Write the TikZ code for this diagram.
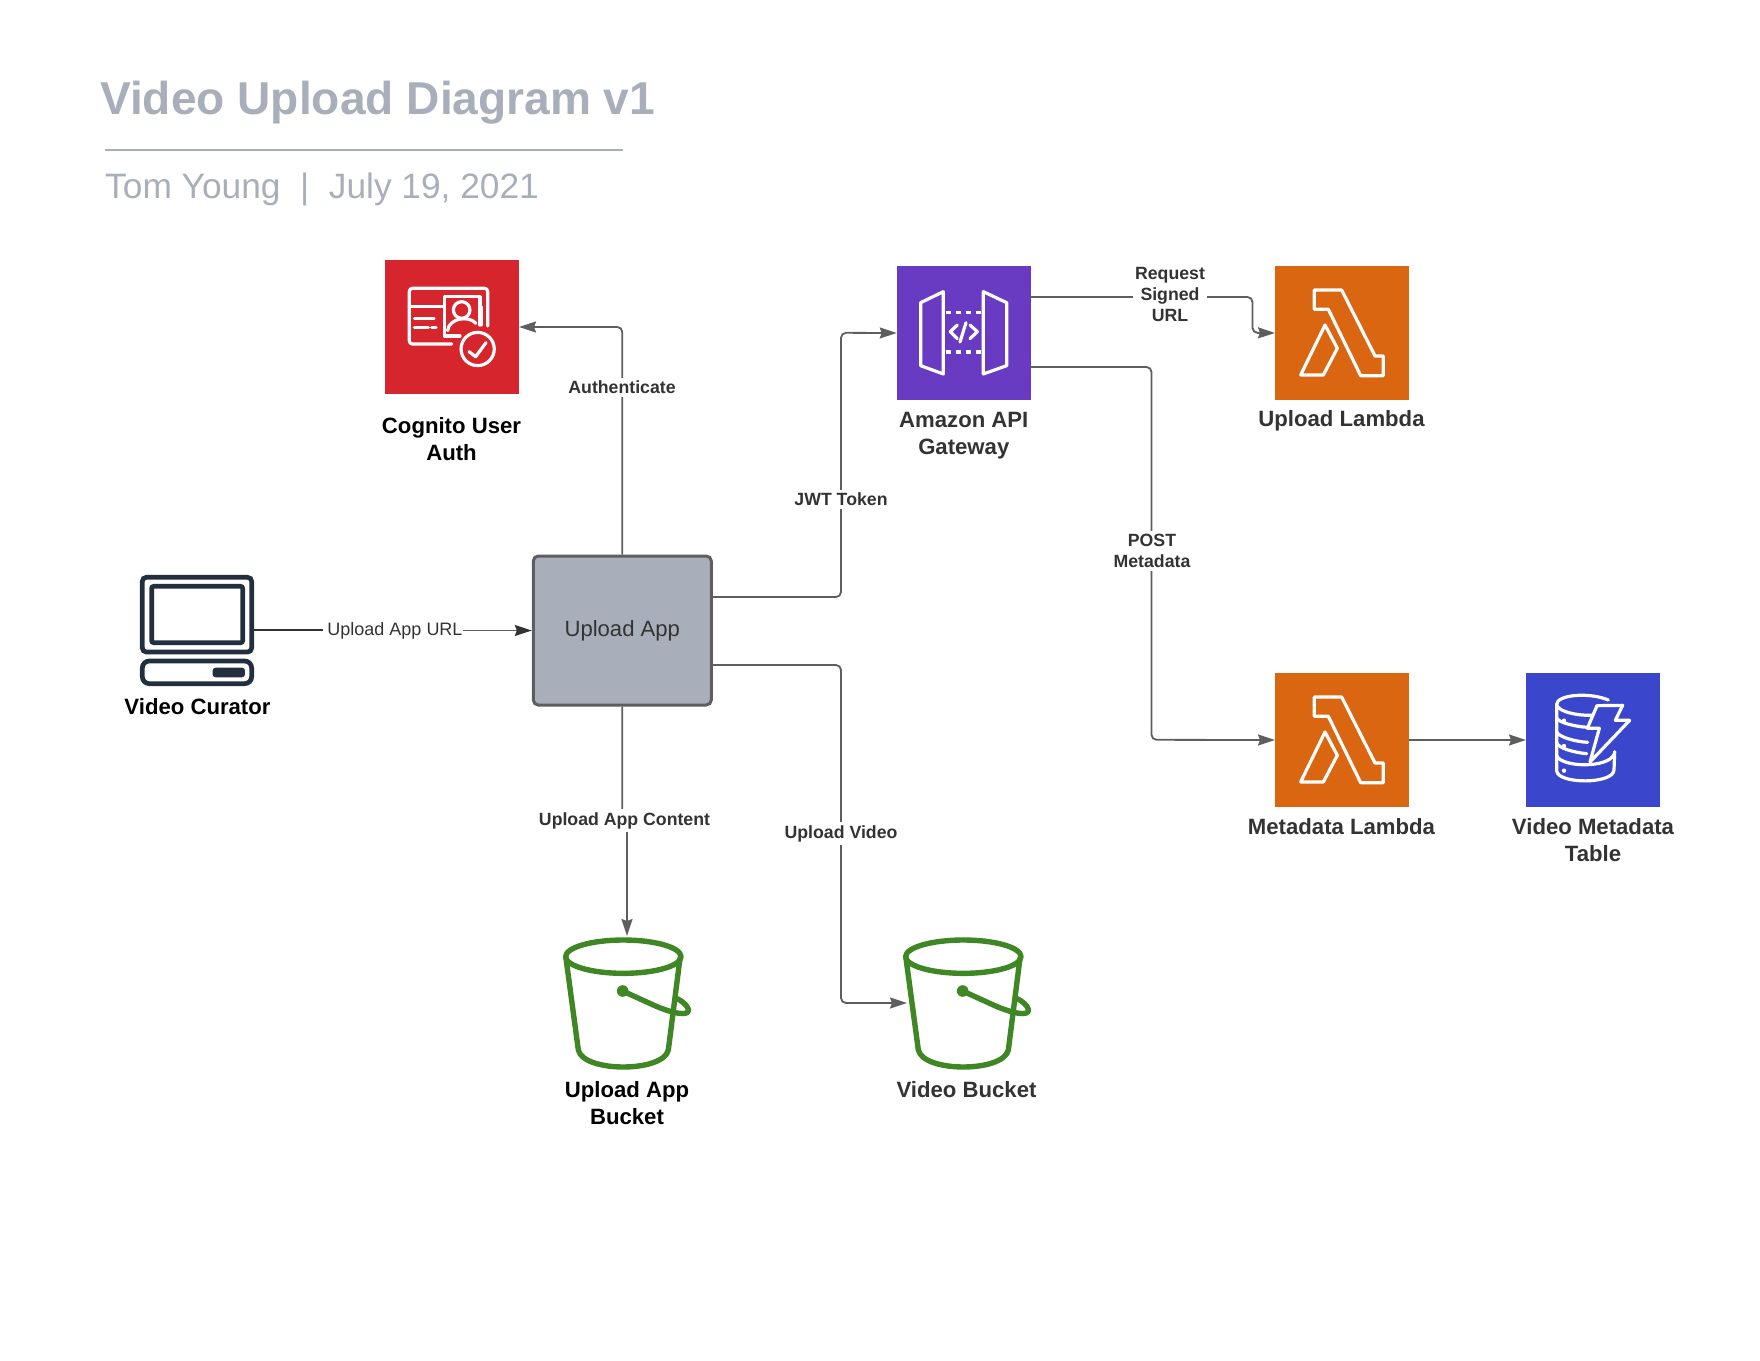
\documentclass[tikz,border=0pt]{standalone}
\usepackage{fontspec}
\setmainfont{Liberation Sans}
\usetikzlibrary{arrows.meta}
\definecolor{titlegray}{HTML}{A9AFBA}
\definecolor{conn}{HTML}{5E5E5E}
\definecolor{ink}{HTML}{333333}
\definecolor{awsred}{HTML}{D7252D}
\definecolor{awspurple}{HTML}{693BC2}
\definecolor{awsorange}{HTML}{DA6612}
\definecolor{awsblue}{HTML}{3A47CC}
\definecolor{awsgreen}{HTML}{3F8624}
\definecolor{navy}{HTML}{232F3E}
\tikzset{
  tile/.style={minimum size=133.6pt,inner sep=0pt,anchor=north west,draw=none},
  glyph/.style={white,line width=3.2pt,line join=round,line cap=round},
  wire/.style={draw=conn,line width=1.8pt,rounded corners=5pt,-{Stealth[length=17pt,width=11pt,inset=2pt]}},
  tag/.style={fill=white,inner xsep=2pt,inner ysep=3pt,align=center,text=ink,font=\bfseries\fontsize{17.7}{21.3}\selectfont},
  caption/.style={align=center,text=ink,inner sep=0pt,font=\bfseries\fontsize{22.15}{27}\selectfont},
  captionblack/.style={caption,text=black},
  bucketline/.style={awsgreen,line width=5.4pt,line join=round,line cap=round},
}
\newcommand{\lambdaglyph}[2]{%
  \begin{scope}[shift={(#1,#2)},x=0.3333pt,y=-0.3333pt]
    \draw[glyph] (163,120) -- (245,120) -- (345,318) -- (370,318) -- (370,377) -- (302,377) -- (205,178) -- (163,178) -- cycle;
    \draw[glyph] (195,225) -- (232,295) -- (190,375) -- (122,375) -- cycle;
  \end{scope}}
\newcommand{\bucketglyph}[2]{%
  \begin{scope}[shift={(#1,#2)},x=0.3333pt,y=-0.3333pt]
    \draw[bucketline] (250,110) ellipse [x radius=173,y radius=50];
    \draw[bucketline] (78,115) -- (115,390) .. controls (130,458) and (370,458) .. (385,390) -- (420,115);
    \fill[awsgreen] (248,213) circle [radius=5.8pt];
    \draw[bucketline] (248,213) -- (340,255) .. controls (400,282) and (450,290) .. (445,268) .. controls (442,255) and (425,243) .. (412,236);
  \end{scope}}
\begin{document}
\begin{tikzpicture}[x=1pt,y=-1pt]
\useasboundingbox (0,0) rectangle (1760,1360);

% Title block
\node[anchor=base west,inner sep=0pt,text=titlegray,font=\bfseries\fontsize{46.1}{46}\selectfont] (title) at (100,114) {Video Upload Diagram v1};
\coordinate (ruleL) at (105,150);
\coordinate (ruleR) at (623,150);
\draw[titlegray,line width=1.6pt] (ruleL) -- (ruleR);
\node[anchor=base west,inner sep=0pt,text=titlegray,font=\fontsize{35.3}{36}\selectfont] (subtitle) at (105,198) {Tom Young\ \ |\ \ July 19, 2021};

% Tiles
\node[tile,fill=awsred] (cognito) at (385,260) {};
\node[tile,fill=awspurple] (api) at (896.7,266) {};
\node[tile,fill=awsorange] (uplambda) at (1275,266) {};
\node[tile,fill=awsorange] (metalambda) at (1275,673) {};
\node[tile,fill=awsblue] (ddb) at (1526,673) {};

% Upload app
\node[draw=conn,fill=titlegray,line width=3pt,rounded corners=5pt,minimum width=178pt,minimum height=149pt,inner sep=0pt,text=ink,font=\fontsize{22.1}{27}\selectfont] (app) at (622.3,630.5) {Upload App};

% Cognito glyph
\begin{scope}[shift={(360,240)},x=0.3333pt,y=-0.3333pt]
  \draw[glyph,rounded corners=3pt] (275,312) -- (148,312) -- (148,145) -- (383,145) -- (383,258);
  \draw[glyph] (148,200) -- (250,200);
  \draw[glyph] (365,200) -- (365,255);
  \draw[glyph] (300,288) -- (253,288) -- (253,170) -- (360,170) -- (360,255);
  \draw[glyph] (305,210) circle [radius=8.3pt];
  \draw[glyph] (263,272) .. controls (266,235) and (325,225) .. (348,250);
  \draw[glyph] (163,236) -- (222,236);
  \draw[glyph] (163,262) -- (205,262);
  \draw[glyph] (215,262) -- (228,262);
  \draw[glyph] (353,327) circle [radius=16.6pt];
  \draw[glyph] (327,335) -- (347,350) -- (378,308);
\end{scope}

% API Gateway glyph
\begin{scope}[shift={(880,250)},x=0.3333pt,y=-0.3333pt]
  \draw[glyph] (122,158) -- (190,125) -- (190,372) -- (122,347) -- cycle;
  \draw[glyph] (310,125) -- (380,158) -- (380,347) -- (310,372) -- cycle;
  \draw[white,line width=3.2pt,dash pattern=on 5.7pt off 4.3pt] (197,188) -- (303,188);
  \draw[white,line width=3.2pt,dash pattern=on 5.7pt off 4.3pt] (197,306) -- (303,306);
  \draw[glyph] (232,225) -- (211,245) -- (232,266);
  \draw[glyph] (270,225) -- (292,245) -- (270,266);
  \draw[glyph] (258,218) -- (240,276);
\end{scope}

\lambdaglyph{1260}{250}
\lambdaglyph{1260}{657}

% DynamoDB glyph
\begin{scope}[shift={(1545,685)},x=0.3333pt,y=-0.3333pt]
  \draw[glyph] (190,45) .. controls (130,20) and (35,30) .. (35,58) .. controls (35,80) and (110,98) .. (165,88);
  \draw[glyph] (35,58) -- (35,98) .. controls (38,112) and (90,125) .. (128,127);
  \draw[glyph] (35,98) -- (35,140) .. controls (38,155) and (90,170) .. (128,172);
  \draw[glyph] (35,140) -- (35,172) .. controls (38,190) and (90,203) .. (125,206);
  \draw[glyph] (35,172) -- (35,258) .. controls (40,298) and (205,298) .. (207,255) -- (209,200);
  \draw[glyph] (35,212) .. controls (50,248) and (190,250) .. (207,208);
  \fill[white] (57,107) circle [radius=2.2pt] (57,183) circle [radius=2.2pt] (57,257) circle [radius=2.2pt];
  \draw[glyph,fill=awsblue] (156,62) -- (233,61) -- (211,106) -- (254,106) -- (135,231) -- (163,130) -- (127,130) -- cycle;
\end{scope}

% Curator glyph
\node[inner sep=0pt,minimum width=114pt,minimum height=112pt] (curator) at (197,631) {};
\begin{scope}[shift={(110,560)},x=0.3333pt,y=-0.3333pt]
  \draw[navy,line width=4.7pt,rounded corners=4pt] (97,52) rectangle (425,276);
  \draw[navy,line width=4.7pt,rounded corners=2pt] (125,79) rectangle (398,248);
  \draw[navy,line width=4.7pt,rounded corners=7pt] (97,303) rectangle (425,371);
  \fill[navy,rounded corners=3pt] (308,323) rectangle (405,352);
\end{scope}

% Buckets
\bucketglyph{540}{920}
\bucketglyph{880}{920}
\coordinate (bucketAtop) at (627,936);
\coordinate (bucketBleft) at (907,1003);

% Connector way-points
\coordinate (appOutA) at (711,597);
\coordinate (appOutB) at (711,665);
\coordinate (apiOutA) at (1030,297);
\coordinate (apiOutB) at (1030,367);
\coordinate (curOut) at (254,630);
\coordinate (urlStop) at (323,630);
\coordinate (appJog) at (627,819);

% Connector labels
\node[inner sep=0pt,text=ink,font=\fontsize{18}{21}\selectfont] (tagUrl) at (395,630.5) {Upload App URL};

% Connectors
\draw[wire] (app.north) |- (cognito.east);
\draw[wire] (appOutA) -- (841,597) -- (841,332.8) -- (api.west);
\draw[wire] (appOutB) -- (841,665) -- (841,1003) -- (bucketBleft);
\draw[wire] (app.south) -- (app.south |- appJog) -- (appJog) -- (bucketAtop);
\draw[wire] (apiOutA) -- (1252.5,297) -- (1252.5,332.8) -- (uplambda.west);
\draw[wire] (apiOutB) -- (1151.5,367) -- (1151.5,739.8) -- (metalambda.west);
\draw[wire] (metalambda.east) -- (ddb.west);
\draw[draw=ink,line width=1.2pt] (curOut) -- (urlStop);
\draw[draw=conn,line width=1.3pt,-{Stealth[length=17pt,width=11pt,inset=2pt,color=ink]}] (tagUrl.east) -- (app.west);

% Connector labels on the wires
\node[tag] (tagAuth) at (622,387) {Authenticate};
\node[tag] (tagJwt) at (841,499.5) {JWT Token};
\node[tag] (tagContent) at (624.5,820.5) {Upload App Content};
\node[tag] (tagVideo) at (841,833.5) {Upload Video};
\node[tag] (tagSigned) at (1170,294.5) {Request\\Signed\\URL};
\node[tag] (tagPost) at (1152,551) {POST\\Metadata};

% Captions
\node[captionblack] (capCognito) at (451.5,439) {Cognito User\\Auth};
\node[caption] (capApi) at (963.8,435.5) {Amazon API\\Gateway};
\node[caption] (capUp) at (1341.5,420.5) {Upload Lambda};
\node[caption] (capMeta) at (1341.5,826.5) {Metadata Lambda};
\node[caption] (capDdb) at (1593,840) {Video Metadata\\Table};
\node[captionblack] (capCurator) at (197.5,706.5) {Video Curator};
\node[captionblack] (capBucketA) at (627,1103) {Upload App\\Bucket};
\node[caption] (capBucketB) at (966.5,1089.5) {Video Bucket};
\end{tikzpicture}
\end{document}
